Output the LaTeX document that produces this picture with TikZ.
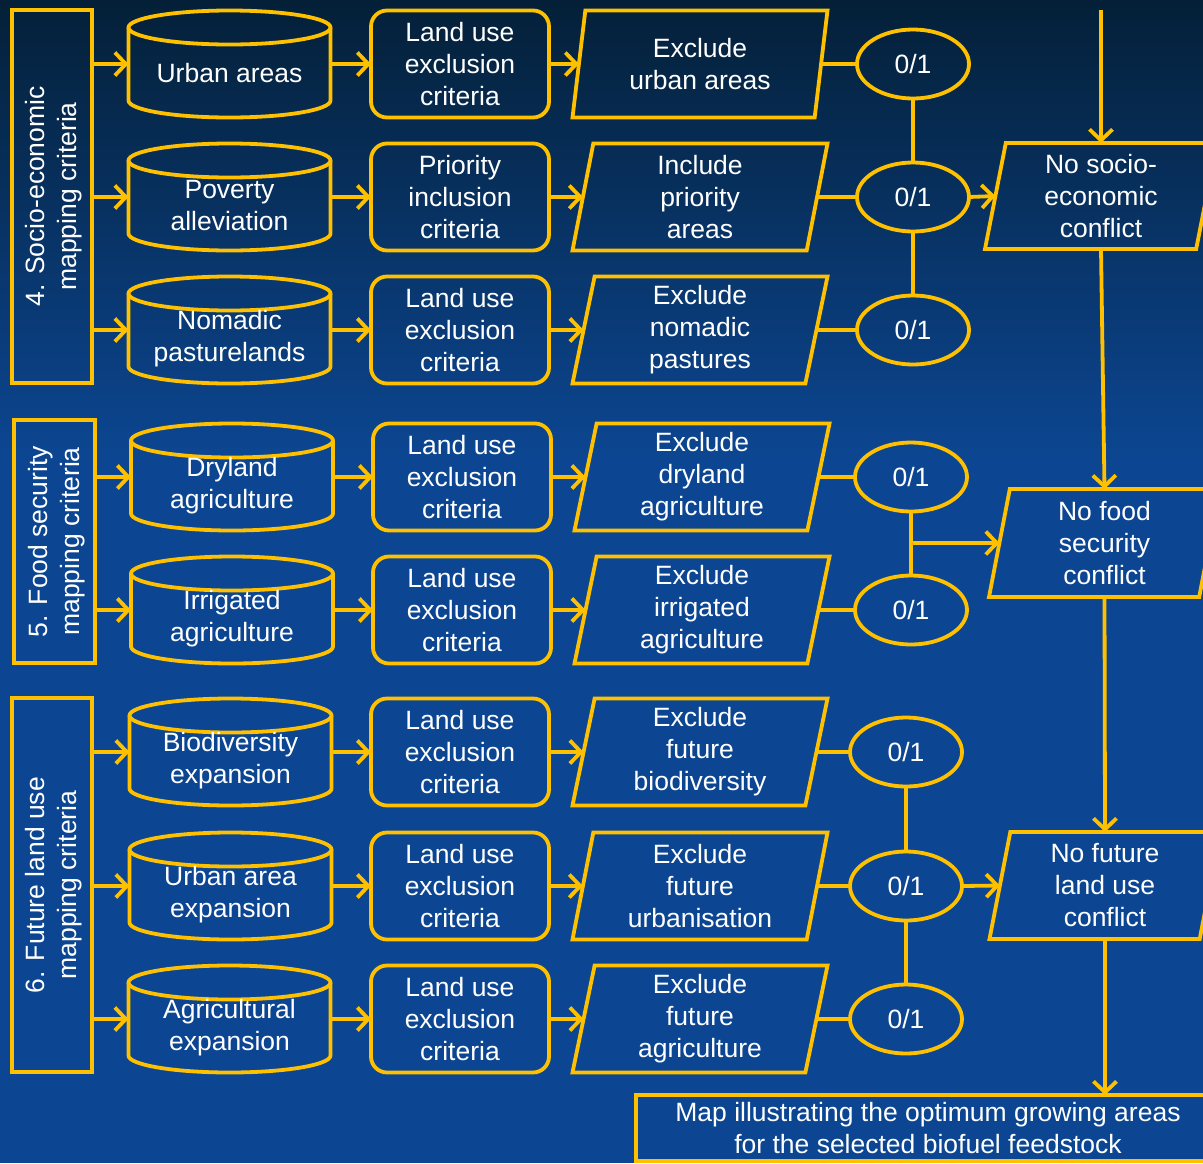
\documentclass[tikz,border=0pt]{standalone}
\usepackage{fontspec}
\setmainfont{Liberation Sans}
\usetikzlibrary{shapes.geometric,arrows.meta,calc}
\definecolor{yel}{RGB}{255,192,0}
\definecolor{bgtop}{RGB}{4,32,56}
\definecolor{bgbot}{RGB}{12,70,146}
\tikzset{
  x=1pt, y=1pt,
  ln/.style={draw=yel, line width=3.8pt},
  arr/.style={draw=yel, line width=3.8pt, -{Straight Barb[length=11pt,width=23pt]}},
  txt/.style={text=white, font=\fontsize{26.5}{32}\selectfont, align=center},
  grp/.style={ln, rectangle, minimum width=80pt, inner sep=0pt, outer sep=0pt},
  cyl/.style={rectangle, minimum width=202pt, minimum height=107pt, inner sep=0pt, outer sep=0pt},
  rbox/.style={ln, txt, rectangle, rounded corners=16pt, minimum width=178pt, minimum height=107pt, inner sep=0pt, outer sep=0pt},
  para/.style={ln, txt, trapezium, trapezium left angle=76, trapezium right angle=104, trapezium stretches body, minimum width=255pt, minimum height=107pt, inner sep=0pt, outer sep=0pt},
  ell/.style={ln, txt, ellipse, minimum width=112pt, minimum height=69pt, inner sep=0pt, outer sep=0pt},
}
\newcommand\drawcyl[1]{%
  \draw[ln] ($(#1.north west)+(0,-17)$) -- ($(#1.south west)+(0,17)$)
    arc[start angle=180, end angle=360, x radius=101pt, y radius=17pt]
    -- ($(#1.north east)+(0,-17)$);
  \draw[ln] ($(#1.north)+(0,-17)$) ellipse[x radius=101pt, y radius=17pt];
}
\begin{document}
\begin{tikzpicture}
\useasboundingbox (0,0) rectangle (1203,-1163);
\clip (0,0) rectangle (1203,-1163);
\shade[top color=bgtop, bottom color=bgbot] (0,0) rectangle (1203,-460);
\fill[bgbot] (0,-459) rectangle (1203,-1163);

% group boxes
\node[grp, minimum height=373pt] (g4) at (52,-196.5) {};
\node[txt, rotate=90] at ($(g4.center)+(2,0)$) {4. Socio-economic\\mapping criteria};
\node[grp, minimum width=81pt, minimum height=243pt] (g5) at (54.5,-541.5) {};
\node[txt, rotate=90] at ($(g5.center)+(2,0)$) {5. Food security\\mapping criteria};
\node[grp, minimum height=374pt] (g6) at (52,-885) {};
\node[txt, rotate=90] at ($(g6.center)+(2,0)$) {6. Future land use\\mapping criteria};

% cylinders
\node[cyl] (c1) at (229.5,-64) {};
\node[cyl] (c2) at (229.5,-197) {};
\node[cyl] (c3) at (229.5,-330) {};
\node[cyl] (c4) at (232,-477) {};
\node[cyl] (c5) at (232,-610) {};
\node[cyl] (c6) at (230.5,-752) {};
\node[cyl] (c7) at (230.5,-886) {};
\node[cyl] (c8) at (229.5,-1019) {};
\foreach \c in {c1,c2,c3,c4,c5,c6,c7,c8} {\drawcyl{\c}}
\node[txt] at ($(c1.center)+(0,-9)$) {Urban areas};
\node[txt] at ($(c2.center)+(0,-9)$) {Poverty\\alleviation};
\node[txt] at ($(c3.center)+(0,-9)$) {Nomadic\\pasturelands};
\node[txt] at ($(c4.center)+(0,-9)$) {Dryland\\agriculture};
\node[txt] at ($(c5.center)+(0,-9)$) {Irrigated\\agriculture};
\node[txt] at ($(c6.center)+(0,-9)$) {Biodiversity\\expansion};
\node[txt] at ($(c7.center)+(0,-9)$) {Urban area\\expansion};
\node[txt] at ($(c8.center)+(0,-9)$) {Agricultural\\expansion};

% rounded boxes
\node[rbox] (r1) at (460,-64) {Land use\\exclusion\\criteria};
\node[rbox] (r2) at (460,-197) {Priority\\inclusion\\criteria};
\node[rbox] (r3) at (460,-330) {Land use\\exclusion\\criteria};
\node[rbox] (r4) at (462,-477) {Land use\\exclusion\\criteria};
\node[rbox] (r5) at (462,-610) {Land use\\exclusion\\criteria};
\node[rbox] (r6) at (460,-752) {Land use\\exclusion\\criteria};
\node[rbox] (r7) at (460,-886) {Land use\\exclusion\\criteria};
\node[rbox] (r8) at (460,-1019) {Land use\\exclusion\\criteria};

% parallelograms
\node[para] (p1) at (700,-64) {Exclude\\urban areas};
\node[para] (p2) at (700,-197) {Include\\priority\\areas};
\node[para] (p3) at (700,-330) {Exclude\\nomadic\\pastures};
\node[para] (p4) at (702,-477) {Exclude\\dryland\\agriculture};
\node[para] (p5) at (702,-610) {Exclude\\irrigated\\agriculture};
\node[para] (p6) at (700,-752) {Exclude\\future\\biodiversity};
\node[para] (p7) at (700,-886) {Exclude\\future\\urbanisation};
\node[para] (p8) at (700,-1019) {Exclude\\future\\agriculture};

% 0/1 ellipses
\node[ell] (e1) at (913,-64) {0/1};
\node[ell] (e2) at (913,-197) {0/1};
\node[ell] (e3) at (913,-330) {0/1};
\node[ell] (e4) at (911,-477) {0/1};
\node[ell] (e5) at (911,-610) {0/1};
\node[ell] (e6) at (906,-752) {0/1};
\node[ell] (e7) at (906,-886) {0/1};
\node[ell] (e8) at (906,-1019) {0/1};

% right column
\node[para, minimum width=232pt, minimum height=106pt] (ns) at (1101,-196) {No socio-\\economic\\conflict};
\node[para, minimum width=231pt, minimum height=108pt] (nf) at (1104.5,-543) {No food\\security\\conflict};
\node[para, minimum width=231pt, minimum height=107pt] (nu) at (1105,-885.5) {No future\\land use\\conflict};
\node[ln, txt, rectangle, minimum width=584pt, minimum height=66pt, inner sep=0pt, outer sep=0pt] (map) at (928,-1128) {Map illustrating the optimum growing areas\\for the selected biofuel feedstock};
\coordinate (top) at (1101,-10);

% group arrows
\foreach \c in {c1,c2,c3} {\draw[arr] (g4.east |- \c.west) -- (\c.west);}
\foreach \c in {c4,c5} {\draw[arr] (g5.east |- \c.west) -- (\c.west);}
\foreach \c in {c6,c7,c8} {\draw[arr] (g6.east |- \c.west) -- (\c.west);}

% row chains
\foreach \i in {1,...,8} {
  \draw[arr] (c\i.east) -- (r\i.west);
  \draw[arr] (r\i.east) -- (p\i.west);
  \draw[ln] (p\i.east) -- (e\i.west);
}

% ellipse joins
\draw[ln] (e1.south) -- (e2.north);
\draw[ln] (e2.south) -- (e3.north);
\draw[ln] (e4.south) -- (e5.north);
\draw[ln] (e6.south) -- (e7.north);
\draw[ln] (e7.south) -- (e8.north);
\coordinate (jf) at (e4.south |- nf.west);
\draw[arr] (e2.east) -- (ns.west);
\draw[arr] (jf) -- (nf.west);
\draw[arr] (e7.east) -- (nu.west);

% right verticals
\draw[arr] (top) -- (ns.north);
\draw[arr] (ns.south) -- (nf.north);
\draw[arr] (nf.south) -- (nu.north);
\draw[arr] (nu.south) -- (nu.south |- map.north);
\end{tikzpicture}
\end{document}
